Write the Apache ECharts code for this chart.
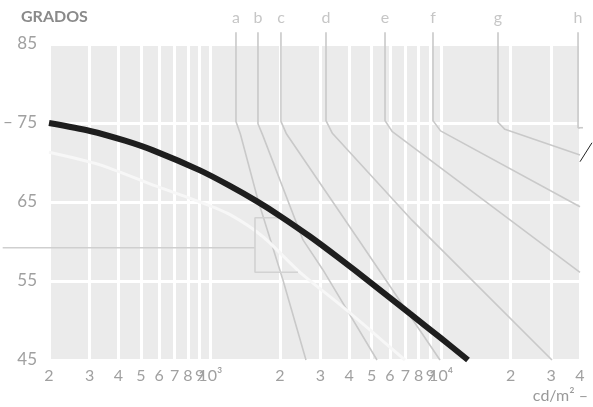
<!DOCTYPE html>
<html><head><meta charset="utf-8">
<script src="https://cdn.jsdelivr.net/npm/echarts@6/dist/echarts.min.js"></script>
<style>html,body{margin:0;padding:0;background:#fff}#c{width:593px;height:407px}</style>
</head><body><div id="c"></div>
<script>
// x: luminance (cd/m2, log scale), y: angle (grados)
const xTickValues = [200,300,400,500,600,700,800,900,1000,2000,3000,4000,5000,6000,7000,8000,9000,10000,20000,30000,40000];
const yTicks = [45,55,65,75,85];

// thick black glare curve
const glareLum = [200,301,427,565,902,1205,1594,2004,2704,3648,4920,7334,9894,13082];
const glareDeg = [75.0,73.99,72.76,71.53,69.0,67.1,65.08,63.24,60.63,57.8,54.86,50.86,47.86,45.0];

// light (whitish) curve
const lightLum = [200,333,548,902,1217,1692,2448,3648,4920,6976];
const lightDeg = [71.3,69.7,67.3,65.0,63.4,60.6,56.1,52.0,48.8,45.0];

// Söllner limit lines a..h
const sollnerNames = ['a','b','c','d','e','f','g','h'];
const sollnerA_lum = [1292,1292,1350,1609,2066,2598];
const sollnerA_deg = [86.5,75.2,73.6,65.25,55.1,45];
const sollnerB_lum = [1609,1609,1690,2522,3079,5278];
const sollnerB_deg = [86.5,74.9,73.4,60.2,56.4,45];
const sollnerC_lum = [2024,2024,2140,4279,9894];
const sollnerC_deg = [86.5,75.2,73.6,60.7,45];
const sollnerD_lum = [3172,3172,3380,7482,30240];
const sollnerD_deg = [86.5,75.3,73.7,62.7,45];
const sollnerE_lum = [5716,5716,6150,40000];
const sollnerE_deg = [86.5,75.3,73.9,56.1];
const sollnerF_lum = [9226,9226,9950,40000];
const sollnerF_deg = [86.5,75.3,74.0,64.4];
const sollnerG_lum = [17650,17650,18900,40000];
const sollnerG_deg = [86.5,75.1,74.2,70.95];
const sollnerH_lum = [39220,39220,40000];
const sollnerH_deg = [86.5,74.4,74.4];

// annotation marks (partly outside the plot, drawn on a full-width twin axis with the same scale)
const bracketLum = [126,1562];
const bracketDeg = [59.2,59.2];
const boxLum = [2108,1562,1562,2398];
const boxDeg = [63.0,63.0,56.1,56.1];
const hTickLum = [39220,41200];
const hTickDeg = [74.4,74.4];
const pointerLum = [40000,45080];
const pointerDeg = [70.1,72.5];

const zip = (a,b) => a.map((v,i)=>[v,b[i]]);
const sollnerLum = [sollnerA_lum,sollnerB_lum,sollnerC_lum,sollnerD_lum,sollnerE_lum,sollnerF_lum,sollnerG_lum,sollnerH_lum];
const sollnerDeg = [sollnerA_deg,sollnerB_deg,sollnerC_deg,sollnerD_deg,sollnerE_deg,sollnerF_deg,sollnerG_deg,sollnerH_deg];

const FONT = 'Lato';
const W = 593, GL = 49, GR = 13;
const xMin = 200, xMax = 40000;
const pxPerDecade = (W - GL - GR) / Math.log10(xMax / xMin);
const xMinFull = xMin * Math.pow(10, -GL / pxPerDecade);
const xMaxFull = xMax * Math.pow(10, GR / pxPerDecade);

const chart = echarts.init(document.getElementById('c'), null, {renderer:'canvas'});

function xLabel(v){
  const e = Math.floor(Math.log10(v) + 1e-9);
  const m = Math.round(v / Math.pow(10,e));
  if (m === 1) return '10' + (e === 3 ? '³' : e === 4 ? '⁴' : String(e));
  return String(m);
}

const series = [];
sollnerLum.forEach((l,i)=>{
  series.push({type:'line', data: zip(l, sollnerDeg[i]), symbol:'none', clip:false, silent:true,
    lineStyle:{color:'#c9c9c9', width:1.6}, z:2});
});
series.push({type:'scatter', data: sollnerLum.map((l,i)=>[l[0], sollnerDeg[i][0]]), symbolSize:1, clip:false, silent:true,
  itemStyle:{color:'rgba(0,0,0,0)'},
  label:{show:true, position:'top', distance:6, color:'#b8b8b8', fontSize:16, fontFamily:FONT,
    formatter: p => sollnerNames[p.dataIndex]}, z:3});
series.push({type:'line', data: zip(lightLum, lightDeg), symbol:'none', smooth:0.25, clip:false, silent:true,
  lineStyle:{color:'#f7f7f7', width:3}, z:3});
series.push({type:'line', xAxisIndex:1, yAxisIndex:1, data: zip(bracketLum, bracketDeg), symbol:'none', clip:false, silent:true,
  lineStyle:{color:'#cfcfcf', width:1.6}, z:3});
series.push({type:'line', data: zip(boxLum, boxDeg), symbol:'none', clip:false, silent:true,
  lineStyle:{color:'#d2d2d2', width:1.6}, z:3});
series.push({type:'line', xAxisIndex:1, yAxisIndex:1, data: zip(hTickLum, hTickDeg), symbol:'none', clip:false, silent:true,
  lineStyle:{color:'#c9c9c9', width:1.6}, z:2});
series.push({type:'line', data: zip(glareLum, glareDeg), symbol:'none', smooth:0.25, clip:false, silent:true,
  lineStyle:{color:'#1e1e1e', width:6}, z:5});
series.push({type:'line', xAxisIndex:1, yAxisIndex:1, data: zip(pointerLum, pointerDeg), symbol:'none', clip:false, silent:true,
  lineStyle:{color:'#222', width:1}, z:5});

chart.setOption({
  animation:false,
  backgroundColor:'#fff',
  title:[
    {text:'GRADOS', left:16, top:4, textStyle:{fontFamily:FONT, fontSize:16, fontWeight:'bold', color:'#8a8a8a'}},
    {text:'cd/m² –', right:0, top:383, textStyle:{fontFamily:FONT, fontSize:16, fontWeight:'normal', color:'#999'}}
  ],
  grid:[
    {left:GL, right:GR, top:44, bottom:47, show:true, backgroundColor:'#ebebeb', borderWidth:0},
    {left:0, right:0, top:44, bottom:47, show:false}
  ],
  xAxis:[{type:'log', logBase:10, min:xMin, max:xMax, gridIndex:0,
    axisLine:{show:false},
    axisTick:{show:false, customValues:xTickValues},
    splitLine:{show:true, lineStyle:{color:'#ffffff', width:3}},
    minorSplitLine:{show:false},
    axisLabel:{customValues:xTickValues, formatter:xLabel, color:'#a0a0a0', fontSize:16, fontFamily:FONT, margin:8}
  },{type:'log', logBase:10, min:xMinFull, max:xMaxFull, gridIndex:1, show:false,
    splitLine:{show:false}, axisLabel:{show:false}, axisTick:{show:false}, axisLine:{show:false}}],
  yAxis:[{type:'value', min:45, max:85, interval:10, gridIndex:0,
    axisLine:{show:false}, axisTick:{show:false},
    splitLine:{show:true, lineStyle:{color:'#ffffff', width:3}},
    axisLabel:{formatter: v => v===75 ? '– 75' : String(v), align:'right', margin:12, color:'#a0a0a0', fontSize:17, fontFamily:FONT, padding:[0,0,6,0]}
  },{type:'value', min:45, max:85, gridIndex:1, show:false, splitLine:{show:false}}],
  series
});
</script></body></html>
